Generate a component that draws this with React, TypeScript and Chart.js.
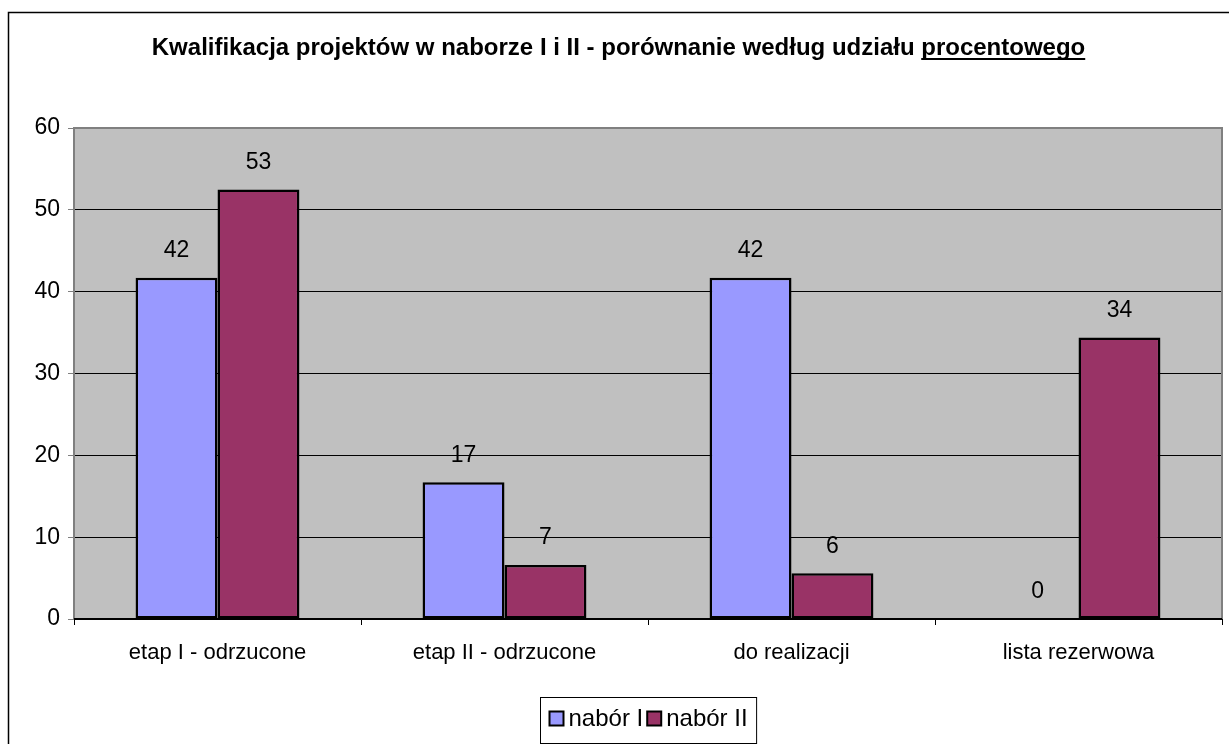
import React, { useEffect, useRef } from "react";
import { Chart, registerables } from "chart.js";

Chart.register(...registerables);

const categories = ["etap I - odrzucone", "etap II - odrzucone", "do realizacji", "lista rezerwowa"];
const naborI = [41.7, 16.7, 41.7, 0];
const naborII = [52.5, 6.6, 5.6, 34.4];
const seriesNames = ["nabór I", "nabór II"];
const seriesColors = ["#9999FF", "#993366"];
const yMin = 0;
const yMax = 60;
const yStep = 10;
const titleMain = "Kwalifikacja projektów w naborze I i II - porównanie według udziału ";
const titleUnderlined = "procentowego";

const FONT = "'Liberation Sans', Arial, sans-serif";

const chartDecor = {
  id: "chartDecor",
  beforeDraw(chart: any) {
    const { ctx, chartArea: a, width, height } = chart;
    ctx.save();
    ctx.fillStyle = "#FFFFFF";
    ctx.fillRect(0, 0, width, height);
    ctx.strokeStyle = "#000000";
    ctx.lineWidth = 1.5;
    ctx.beginPath();
    ctx.moveTo(8.5, height + 2);
    ctx.lineTo(8.5, 12.5);
    ctx.lineTo(width + 2, 12.5);
    ctx.stroke();
    ctx.fillStyle = "#C0C0C0";
    ctx.fillRect(a.left, a.top, a.right - a.left, a.bottom - a.top);
    ctx.restore();
  },
  beforeDatasetsDraw(chart: any) {
    const { ctx, chartArea: a } = chart;
    ctx.save();
    ctx.strokeStyle = "#808080";
    ctx.lineWidth = 2;
    ctx.beginPath();
    ctx.moveTo(a.left, a.bottom);
    ctx.lineTo(a.left, a.top);
    ctx.lineTo(a.right, a.top);
    ctx.lineTo(a.right, a.bottom);
    ctx.stroke();
    ctx.strokeStyle = "#000000";
    ctx.lineWidth = 2;
    ctx.beginPath();
    ctx.moveTo(a.left, a.bottom);
    ctx.lineTo(a.right, a.bottom);
    ctx.stroke();
    ctx.restore();
  },
  afterDraw(chart: any) {
    const { ctx, chartArea: a, width } = chart;
    ctx.save();
    // title
    ctx.font = `bold 24px ${FONT}`;
    ctx.fillStyle = "#000000";
    ctx.textBaseline = "middle";
    ctx.textAlign = "left";
    const w1 = ctx.measureText(titleMain).width;
    const w2 = ctx.measureText(titleUnderlined).width;
    const tx = (8 + width) / 2 - (w1 + w2) / 2;
    const ty = 48;
    ctx.fillText(titleMain, tx, ty);
    ctx.fillText(titleUnderlined, tx + w1, ty);
    ctx.fillRect(tx + w1, ty + 10, w2, 2);

    // data labels
    ctx.font = `23px ${FONT}`;
    ctx.textAlign = "center";
    chart.data.datasets.forEach((ds: any, i: number) => {
      const meta = chart.getDatasetMeta(i);
      meta.data.forEach((bar: any, j: number) => {
        ctx.fillText(String(Math.round(ds.data[j])), bar.x, bar.y - 27);
      });
    });

    // legend
    ctx.font = `24px ${FONT}`;
    ctx.textAlign = "left";
    const sq = 14;
    const gapText = 5;
    const gapItem = 4;
    const padX = 9;
    const items = chart.data.datasets.map((ds: any) => ({
      label: ds.label,
      color: ds.backgroundColor,
      w: ctx.measureText(ds.label).width,
    }));
    let total = padX * 2;
    items.forEach((it: any, k: number) => {
      total += sq + gapText + it.w + (k < items.length - 1 ? gapItem : 0);
    });
    const cx = (a.left + a.right) / 2;
    const boxL = Math.round(cx - total / 2) + 0.5;
    const boxT = 697.5;
    const boxH = 46;
    ctx.strokeStyle = "#000000";
    ctx.lineWidth = 1;
    ctx.strokeRect(boxL, boxT, total, boxH);
    let x = boxL + padX;
    const cy = boxT + boxH / 2 - 2;
    items.forEach((it: any) => {
      ctx.fillStyle = it.color;
      ctx.fillRect(x, cy - sq / 2, sq, sq);
      ctx.strokeStyle = "#000000";
      ctx.lineWidth = 2;
      ctx.strokeRect(x, cy - sq / 2, sq, sq);
      x += sq + gapText;
      ctx.fillStyle = "#000000";
      ctx.fillText(it.label, x, cy + 1);
      x += it.w + gapItem;
    });
    ctx.restore();
  },
};

export default function App() {
  const ref = useRef<HTMLCanvasElement | null>(null);
  useEffect(() => {
    if (!ref.current) return;
    const chart = new Chart(ref.current, {
      type: "bar",
      data: {
        labels: categories,
        datasets: [
          {
            label: seriesNames[0],
            data: naborI,
            backgroundColor: seriesColors[0],
            borderColor: "#000000",
            borderWidth: 2.5,
            borderSkipped: false,
          },
          {
            label: seriesNames[1],
            data: naborII,
            backgroundColor: seriesColors[1],
            borderColor: "#000000",
            borderWidth: 2.5,
            borderSkipped: false,
          },
        ],
      },
      options: {
        responsive: false,
        animation: false,
        devicePixelRatio: 1,
        layout: { padding: { left: 0, top: 128, right: 7, bottom: 0 } },
        datasets: { bar: { barPercentage: 1, categoryPercentage: 0.571 } },
        plugins: {
          legend: { display: false },
          title: { display: false },
          tooltip: { enabled: false },
        },
        scales: {
          x: {
            afterFit: (s: any) => {
              s.height = 125;
            },
            grid: {
              display: true,
              drawOnChartArea: false,
              drawTicks: true,
              tickLength: 6,
              color: "#000000",
              offset: true,
            },
            border: { display: false },
            ticks: {
              color: "#000000",
              font: { family: FONT, size: 22 },
              padding: 15,
              maxRotation: 0,
            },
          },
          y: {
            min: yMin,
            max: yMax,
            afterFit: (s: any) => {
              s.width = 74;
            },
            grid: {
              color: "#000000",
              lineWidth: 1,
              tickLength: 6,
              tickColor: "#808080",
            },
            border: { display: false },
            ticks: {
              stepSize: yStep,
              color: "#000000",
              font: { family: FONT, size: 23 },
              padding: 8,
            },
          },
        },
      },
      plugins: [chartDecor],
    });
    return () => chart.destroy();
  }, []);
  return (
    <div style={{ position: "absolute", left: 0, top: 0, width: 1229, height: 744 }}>
      <canvas ref={ref} width={1229} height={744} />
    </div>
  );
}
